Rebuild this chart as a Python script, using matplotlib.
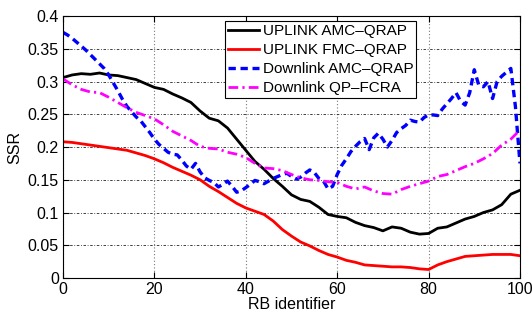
"""
SSR per RB identifier, uplink vs downlink allocation schemes.
"""

import numpy as np
import matplotlib
matplotlib.use("Agg")
import matplotlib.pyplot as plt

plt.rcParams["font.family"] = ["Liberation Sans", "DejaVu Sans"]

# --- data ---
rb_coarse = list(range(0, 101, 2))
rb_fine = list(range(0, 101))

uplink_amc = [0.306, 0.310, 0.312, 0.311, 0.313, 0.310, 0.309, 0.306, 0.303, 0.297,
              0.291, 0.288, 0.281, 0.275, 0.268, 0.255, 0.244, 0.240, 0.229, 0.212,
              0.195, 0.178, 0.166, 0.152, 0.140, 0.127, 0.120, 0.117, 0.108, 0.097,
              0.094, 0.092, 0.085, 0.080, 0.077, 0.072, 0.078, 0.076, 0.070, 0.067,
              0.068, 0.076, 0.078, 0.084, 0.090, 0.094, 0.100, 0.104, 0.112, 0.128,
              0.134]

uplink_fmc = [0.208, 0.207, 0.205, 0.203, 0.201, 0.199, 0.197, 0.195, 0.191, 0.187,
              0.182, 0.176, 0.169, 0.163, 0.157, 0.150, 0.140, 0.132, 0.123, 0.114,
              0.107, 0.102, 0.097, 0.087, 0.074, 0.064, 0.055, 0.049, 0.042, 0.036,
              0.032, 0.027, 0.024, 0.020, 0.019, 0.018, 0.017, 0.017, 0.016, 0.014,
              0.013, 0.020, 0.025, 0.029, 0.033, 0.034, 0.035, 0.036, 0.036, 0.036,
              0.034]

downlink_amc = [0.375, 0.371, 0.366, 0.360, 0.354, 0.348, 0.341, 0.334, 0.327, 0.320,
                0.310, 0.298, 0.286, 0.273, 0.262, 0.254, 0.246, 0.240, 0.231, 0.222,
                0.212, 0.204, 0.198, 0.192, 0.189, 0.188, 0.180, 0.171, 0.166, 0.175,
                0.162, 0.153, 0.149, 0.146, 0.139, 0.143, 0.148, 0.140, 0.131, 0.133,
                0.138, 0.143, 0.149, 0.147, 0.144, 0.148, 0.152, 0.155, 0.158, 0.160,
                0.155, 0.151, 0.154, 0.160, 0.165, 0.161, 0.152, 0.148, 0.136, 0.140,
                0.158, 0.172, 0.182, 0.193, 0.201, 0.208, 0.213, 0.196, 0.214, 0.221,
                0.212, 0.200, 0.210, 0.222, 0.228, 0.233, 0.241, 0.239, 0.238, 0.245,
                0.249, 0.249, 0.248, 0.258, 0.266, 0.274, 0.283, 0.270, 0.264, 0.283,
                0.318, 0.294, 0.292, 0.300, 0.274, 0.300, 0.308, 0.314, 0.320, 0.262,
                0.175]

downlink_qp = [0.304, 0.295, 0.288, 0.284, 0.283, 0.276, 0.268, 0.260, 0.253, 0.248,
               0.243, 0.234, 0.224, 0.217, 0.210, 0.201, 0.198, 0.197, 0.192, 0.189,
               0.184, 0.175, 0.168, 0.167, 0.164, 0.158, 0.153, 0.150, 0.149, 0.147,
               0.146, 0.140, 0.136, 0.139, 0.133, 0.129, 0.128, 0.135, 0.140, 0.144,
               0.148, 0.155, 0.158, 0.164, 0.170, 0.175, 0.182, 0.190, 0.203, 0.212,
               0.226]

labels = ["UPLINK AMC\u2013QRAP", "UPLINK FMC\u2013QRAP",
          "Downlink AMC\u2013QRAP", "Downlink QP\u2013FCRA"]

fig = plt.figure(figsize=(5.32, 3.14), dpi=100)
ax = fig.add_axes([0.1184, 0.1146, 0.8590, 0.8344])

ax.plot(rb_coarse, uplink_amc, color="black", lw=2.0, label=labels[0])
ax.plot(rb_coarse, uplink_fmc, color="red", lw=2.0, label=labels[1])
ax.plot(rb_fine, downlink_amc, color="blue", lw=2.4, dashes=(2.2, 1.4), label=labels[2])
ax.plot(rb_coarse, downlink_qp, color="magenta", lw=2.0, dashes=(3.5, 1.5, 0.8, 1.5),
        label=labels[3])

ax.set_xlim(0, 100)
ax.set_ylim(0, 0.4)
ax.set_xticks([0, 20, 40, 60, 80, 100])
ax.set_yticks(np.arange(0, 0.41, 0.05))
ax.set_yticklabels(["0", "0.05", "0.1", "0.15", "0.2", "0.25", "0.3", "0.35", "0.4"])
ax.tick_params(direction="in", top=True, right=True, length=4, labelsize=11.5, pad=3)

ax.xaxis.grid(True, color="#777777", linestyle=(0, (1, 2)), lw=0.8)
ax.yaxis.grid(True, color="#222222", linestyle=(0, (3, 2, 1, 2)), lw=0.6)
ax.set_axisbelow(True)
for s in ax.spines.values():
    s.set_linewidth(0.8)

ax.set_xlabel("RB identifier", fontsize=11.5, labelpad=0)
ax.set_ylabel("SSR", fontsize=11.5, labelpad=4)

leg = ax.legend(loc="upper right", bbox_to_anchor=(0.773, 0.980), fontsize=11,
                handlelength=2.0, handletextpad=0.25, borderpad=0.2, labelspacing=0.33,
                borderaxespad=0, fancybox=False, framealpha=1)
leg.get_frame().set_edgecolor("black")
leg.get_frame().set_linewidth(0.8)

fig.savefig("out.png", dpi=100, facecolor="white")
